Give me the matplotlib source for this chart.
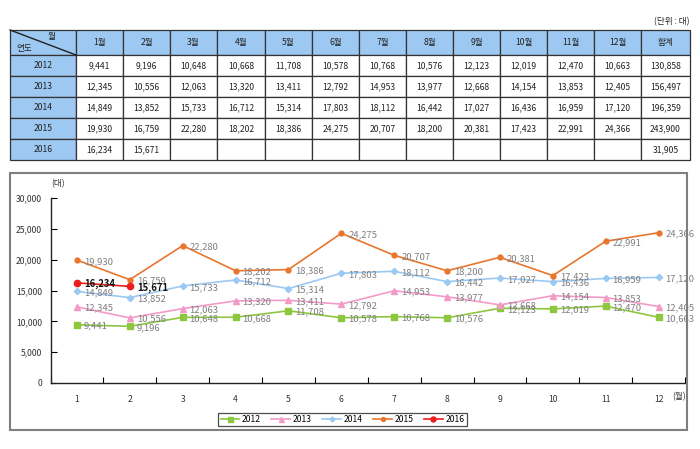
import matplotlib
matplotlib.use("Agg")
import matplotlib.pyplot as plt
from matplotlib.patches import Rectangle
from matplotlib.lines import Line2D

plt.rcParams['font.family'] = ['Noto Sans CJK KR', 'DejaVu Sans']

months = list(range(1, 13))
month_headers = ['1월', '2월', '3월', '4월', '5월', '6월', '7월', '8월', '9월', '10월', '11월', '12월', '합계']
years = ['2012', '2013', '2014', '2015', '2016']
v2012 = [9441, 9196, 10648, 10668, 11708, 10578, 10768, 10576, 12123, 12019, 12470, 10663]
v2013 = [12345, 10556, 12063, 13320, 13411, 12792, 14953, 13977, 12668, 14154, 13853, 12405]
v2014 = [14849, 13852, 15733, 16712, 15314, 17803, 18112, 16442, 17027, 16436, 16959, 17120]
v2015 = [19930, 16759, 22280, 18202, 18386, 24275, 20707, 18200, 20381, 17423, 22991, 24366]
v2016 = [16234, 15671]
totals = [130858, 156497, 196359, 243900, 31905]
yticks = [0, 5000, 10000, 15000, 20000, 25000, 30000]

series = [v2012, v2013, v2014, v2015, v2016]
colors = ['#8DC63F', '#F49AC8', '#9CC9F2', '#E8762D', '#EE1C1C']
markers = ['s', '^', 'D', 'o', 'o']
msizes = [4.5, 4.5, 3.2, 3.5, 4.5]

W, H = 700, 449
fig = plt.figure(figsize=(7.0, 4.49), dpi=100)

def fx(x):
    return x / W

def fy(y):
    return 1 - y / H

# ---------- Table ----------
hdr_fill = '#9DC8F2'
col_edges = [10, 76, 123, 170, 217, 265, 312, 359, 406, 453, 500, 547, 594, 641, 690]
row_edges = [30, 55, 76, 97, 118, 139, 160]
tfs = 6.2

def cell(x0, x1, y0, y1, fill):
    fig.patches.append(Rectangle((fx(x0), fy(y1)), fx(x1 - x0), (y1 - y0) / H,
                                 transform=fig.transFigure, facecolor=fill,
                                 edgecolor='#333333', linewidth=0.9, zorder=1))

# header row
cell(col_edges[0], col_edges[1], row_edges[0], row_edges[1], hdr_fill)
fig.add_artist(Line2D([fx(col_edges[0]), fx(col_edges[1])], [fy(row_edges[0]), fy(row_edges[1])],
                      transform=fig.transFigure, color='#222222', lw=1.0))
fig.text(fx(52), fy(37), '월', fontsize=tfs, ha='center', va='center', color='#222222')
fig.text(fx(16), fy(49), '연도', fontsize=tfs, ha='left', va='center', color='#222222')
for j, h in enumerate(month_headers):
    x0, x1 = col_edges[j + 1], col_edges[j + 2]
    cell(x0, x1, row_edges[0], row_edges[1], hdr_fill)
    fig.text(fx((x0 + x1) / 2), fy((row_edges[0] + row_edges[1]) / 2), h,
             fontsize=tfs, ha='center', va='center', color='#222222')

for i, yr in enumerate(years):
    y0, y1 = row_edges[i + 1], row_edges[i + 2]
    yc = fy((y0 + y1) / 2)
    cell(col_edges[0], col_edges[1], y0, y1, hdr_fill)
    fig.text(fx((col_edges[0] + col_edges[1]) / 2), yc, yr, fontsize=tfs,
             ha='center', va='center', color='#222222')
    vals = series[i]
    for j in range(13):
        x0, x1 = col_edges[j + 1], col_edges[j + 2]
        cell(x0, x1, y0, y1, 'white')
        if j < 12:
            txt = f'{vals[j]:,}' if j < len(vals) else ''
        else:
            txt = f'{totals[i]:,}'
        if txt:
            fig.text(fx((x0 + x1) / 2), yc, txt, fontsize=tfs, ha='center',
                     va='center', color='#222222')

fig.text(fx(689), fy(22), '(단위 : 대)', fontsize=tfs, ha='right', va='center', color='#222222')

# ---------- Chart frame ----------
fig.patches.append(Rectangle((fx(10), fy(430)), fx(677), 257 / H, transform=fig.transFigure,
                             facecolor='none', edgecolor='#7F7F7F', linewidth=1.5, zorder=0))

ax = fig.add_axes([fx(50.5), fy(383), fx(685 - 50.5), (383 - 198) / H])
ax.set_xlim(0.5, 12.5)
ax.set_ylim(0, 30000)
ax.set_yticks(yticks)
ax.set_yticklabels([f'{t:,}' for t in yticks], fontsize=6.2, color='#333333')
ax.set_xticks(months)
ax.set_xticklabels([str(m) for m in months], fontsize=6.2, color='#333333')
ax.set_xticks([m + 0.5 for m in range(0, 13)], minor=True)
ax.tick_params(axis='x', which='major', length=0, pad=9)
ax.tick_params(axis='x', which='minor', direction='in', length=4, width=0.8)
ax.tick_params(axis='y', direction='in', length=4, width=0.8, pad=6)
for s in ['top', 'right']:
    ax.spines[s].set_visible(False)
for s in ['left', 'bottom']:
    ax.spines[s].set_linewidth(1.0)
    ax.spines[s].set_color('#222222')

for i, (vals, c, m, ms, yr) in enumerate(zip(series, colors, markers, msizes, years)):
    xs = months[:len(vals)]
    ax.plot(xs, vals, color=c, marker=m, markersize=ms, linewidth=1.2,
            markeredgecolor=c, label=yr, clip_on=False, zorder=3 + i)
    for x, v in zip(xs, vals):
        if yr == '2016':
            ax.annotate(f'{v:,}', (x, v), xytext=(5, -1), textcoords='offset points',
                        fontsize=6.8, fontweight='bold', color='#111111',
                        ha='left', va='center', zorder=10)
        else:
            ax.annotate(f'{v:,}', (x, v), xytext=(5, -1), textcoords='offset points',
                        fontsize=6.8, color='#7F7F7F', ha='left', va='center', zorder=9)

fig.text(fx(58), fy(184), '(대)', fontsize=6.2, ha='center', va='center', color='#333333')
fig.text(fx(679), fy(397), '(월)', fontsize=6.2, ha='center', va='center', color='#333333')

leg = fig.legend(loc='center', bbox_to_anchor=(fx(342.5), fy(419.5)), ncol=5, fontsize=6.2,
                 frameon=True, fancybox=False, edgecolor='#222222', handlelength=2.2,
                 columnspacing=1.2, handletextpad=0.3, borderpad=0.25, markerscale=0.8)
leg.get_frame().set_linewidth(0.9)

fig.savefig('out.png', dpi=100)
